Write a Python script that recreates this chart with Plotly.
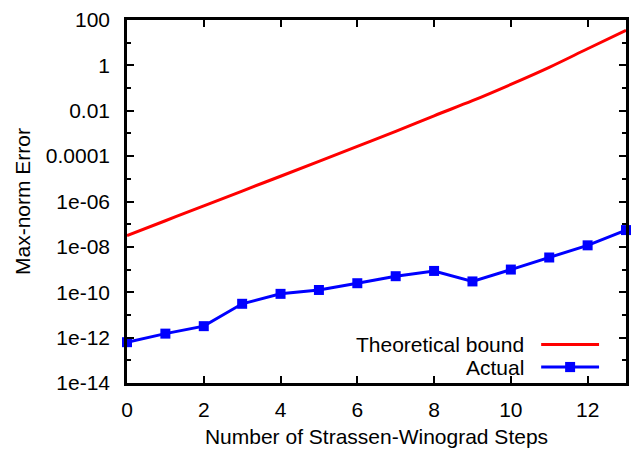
import plotly.graph_objects as go

steps = list(range(14))
bound = [3.16e-8, 1.42e-7, 6.41e-7, 2.89e-6, 1.30e-5, 5.89e-5, 2.68e-4,
         1.23e-3, 6.0e-3, 2.78e-2, 0.145, 0.82, 5.4, 35.0]
actual = [6.3e-13, 1.5e-12, 3.2e-12, 3.1e-11, 8.5e-11, 1.26e-10, 2.5e-10,
          5.1e-10, 8.7e-10, 3.0e-10, 1.0e-9, 3.4e-9, 1.17e-8, 5.5e-8]
ytick_vals = [1e-14, 1e-12, 1e-10, 1e-8, 1e-6, 1e-4, 1e-2, 1, 100]
ytick_text = ["1e-14", "1e-12", "1e-10", "1e-08", "1e-06", "0.0001", "0.01", "1", "100"]
ytick_minor = [1e-13, 1e-11, 1e-9, 1e-7, 1e-5, 1e-3, 1e-1, 10]
xtick_vals = [0, 2, 4, 6, 8, 10, 12]

RED = "#ff0000"
BLUE = "#0000ff"
FONT = "Liberation Sans"
FS = 21

fig = go.Figure()
fig.add_trace(go.Scatter(x=steps, y=bound, mode="lines", name="Theoretical bound",
                         line=dict(color=RED, width=3, shape="spline"),
                         showlegend=False))
fig.add_trace(go.Scatter(x=steps, y=actual, mode="lines+markers", name="Actual",
                         line=dict(color=BLUE, width=3),
                         marker=dict(symbol="square", size=10, color=BLUE),
                         cliponaxis=False, showlegend=False))

axis_common = dict(showline=True, linecolor="black", linewidth=2.5, mirror="allticks",
                   ticks="inside", tickcolor="black", tickwidth=2, showgrid=False,
                   zeroline=False,
                   tickfont=dict(family=FONT, size=FS, color="black"))

fig.update_xaxes(range=[0, 13], tickvals=xtick_vals, ticklen=7, ticklabelstandoff=6,
                 title=dict(text="Number of Strassen-Winograd Steps",
                            font=dict(family=FONT, size=FS, color="black"), standoff=10),
                 **axis_common)
fig.update_yaxes(type="log", range=[-14, 2], tickvals=ytick_vals, ticktext=ytick_text,
                 ticklen=7, ticklabelstandoff=10,
                 minor=dict(tickvals=ytick_minor, ticklen=4, tickwidth=2,
                            tickcolor="black", ticks="inside"),
                 title=dict(text="Max-norm Error",
                            font=dict(family=FONT, size=FS, color="black"), standoff=10),
                 **axis_common)

# legend drawn in paper coordinates (sample on the right of the text, as in the original)
fig.add_annotation(x=0.800, y=0.106, xref="paper", yref="paper", text="Theoretical bound",
                   showarrow=False, xanchor="right", yanchor="middle",
                   font=dict(family=FONT, size=FS, color="black"))
fig.add_annotation(x=0.800, y=0.044, xref="paper", yref="paper", text="Actual",
                   showarrow=False, xanchor="right", yanchor="middle",
                   font=dict(family=FONT, size=FS, color="black"))
fig.add_shape(type="line", xref="paper", yref="paper", x0=0.830, x1=0.946, y0=0.106, y1=0.106,
              line=dict(color=RED, width=3))
fig.add_shape(type="line", xref="paper", yref="paper", x0=0.830, x1=0.946, y0=0.044, y1=0.044,
              line=dict(color=BLUE, width=3))
fig.add_shape(type="rect", xref="paper", yref="paper", x0=0.878, x1=0.898, y0=0.030, y1=0.058,
              line=dict(color=BLUE, width=0), fillcolor=BLUE)

fig.update_layout(width=637, height=456, margin=dict(l=127, r=8, t=14, b=73),
                  plot_bgcolor="white", paper_bgcolor="white",
                  font=dict(family=FONT, size=FS, color="black"))
fig.write_html("out.html")
